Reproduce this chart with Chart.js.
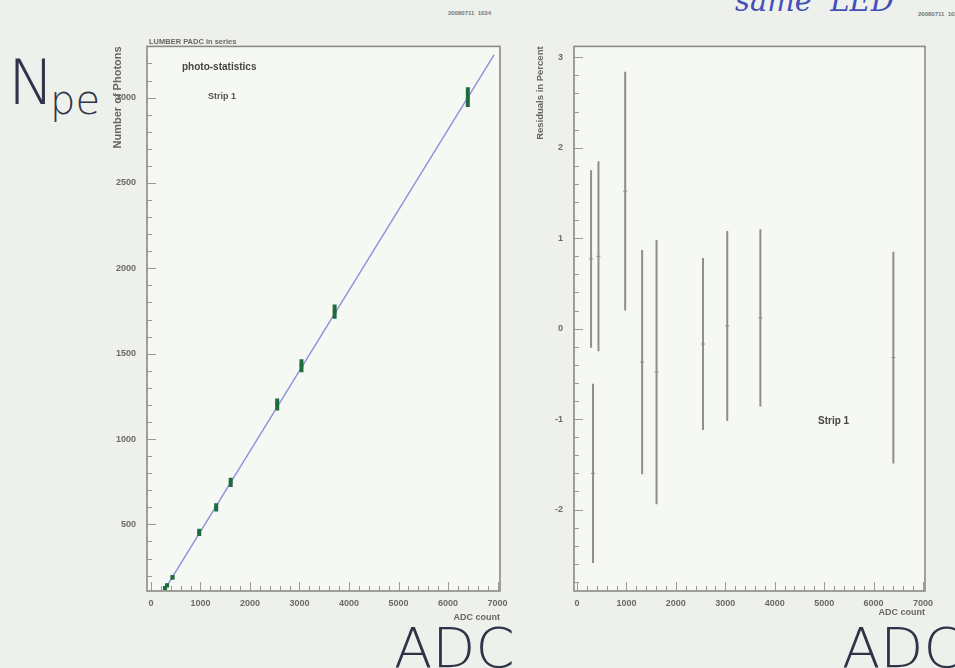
<!DOCTYPE html>
<html>
<head>
<meta charset="utf-8">
<script src="https://cdn.jsdelivr.net/npm/chart.js@4.4.0/dist/chart.umd.min.js"></script>
<style>
  body { margin: 0; width: 955px; height: 668px; background: #eef0ec; position: relative; overflow: hidden; font-family: "Liberation Sans", Arial, sans-serif; }
  .box { position: absolute; }
  .note { position: absolute; white-space: nowrap; line-height: 1; }
  .hand { font-family: "DejaVu Sans", sans-serif; font-weight: 200; color: #2e3548; }
  .stamp { font-size: 6px; color: #777; font-weight: bold; }
</style>
</head>
<body>
<div class="box" style="left:100px; top:30px; width:420px; height:600px;"><canvas id="left"></canvas></div>
<div class="box" style="left:520px; top:30px; width:435px; height:600px;"><canvas id="right"></canvas></div>

<div class="note hand" style="left:8px; top:52px; font-size:62px;">N</div>
<div class="note hand" style="left:50px; top:80px; font-size:40px;">pe</div>
<div class="note hand" style="left:394px; top:620px; font-size:56px;">ADC</div>
<div class="note hand" style="left:842px; top:620px; font-size:56px;">ADC</div>
<div class="note" style="left:735px; top:-13px; font-size:29px; font-style:italic; font-family:'DejaVu Serif',serif; color:#4450b8;">same &nbsp;LED</div>
<div class="note stamp" style="left:448px; top:10px;">20080711 &nbsp;1034</div>
<div class="note stamp" style="left:918px; top:11px;">20080711 &nbsp;1035</div>
<div class="note stamp" style="left:149px; top:38px; font-size:7.5px; color:#666;">LUMBER PADC in series</div>
<div class="note" style="left:182px; top:62px; font-size:10px; font-weight:bold; color:#444;">photo-statistics</div>
<div class="note" style="left:208px; top:92px; font-size:9px; font-weight:bold; color:#555;">Strip 1</div>
<div class="note" style="left:818px; top:416px; font-size:10px; font-weight:bold; color:#444;">Strip 1</div>

<script>
// ADC values of the measurements (same points in both pads)
const adc = [285, 325, 435, 975, 1318, 1610, 2550, 3040, 3710, 6400];
// left pad: number of photoelectrons
const npe = [127, 143, 190, 453, 600, 746, 1202, 1430, 1746, 3003];
const npeErr = [12, 13, 14, 21, 24, 27, 35, 38, 42, 58];
const fitAdc = [280, 6930];
const fitNpe = [120, 3250];
// right pad: residuals in percent
const residual = [0.77, -1.6, 0.8, 1.52, -0.37, -0.48, -0.17, 0.03, 0.12, -0.32];
const residualErr = [0.98, 0.99, 1.05, 1.32, 1.24, 1.46, 0.95, 1.05, 0.98, 1.17];
// tick labels
const xTicks = [0, 1000, 2000, 3000, 4000, 5000, 6000, 7000];
const npeTicks = [500, 1000, 1500, 2000, 2500, 3000];
const residualTicks = [-2, -1, 0, 1, 2, 3];

const labelFont = { family: "Liberation Sans", size: 9, weight: "bold" };

const plotBg = {
  id: "plotBg",
  beforeDraw(chart) {
    const { ctx, chartArea: a } = chart;
    ctx.save();
    ctx.fillStyle = "#f6f8f4";
    ctx.fillRect(a.left, a.top, a.right - a.left, a.bottom - a.top);
    ctx.restore();
  },
};

const errorBars = {
  id: "errorBars",
  afterDatasetsDraw(chart, args, o) {
    if (!o.errors) return;
    const { ctx, chartArea: a } = chart;
    const xs = chart.scales.x;
    const ys = chart.scales.y;
    const pts = chart.data.datasets[0].data;
    ctx.save();
    ctx.beginPath();
    ctx.rect(a.left, a.top, a.right - a.left, a.bottom - a.top);
    ctx.clip();
    ctx.strokeStyle = o.color;
    ctx.lineWidth = o.width;
    pts.forEach((p, i) => {
      const px = xs.getPixelForValue(p.x);
      ctx.beginPath();
      ctx.moveTo(px, ys.getPixelForValue(p.y - o.errors[i]));
      ctx.lineTo(px, ys.getPixelForValue(p.y + o.errors[i]));
      ctx.stroke();
    });
    ctx.restore();
  },
};

// ROOT style frame with ticks drawn inside
const frameTicks = {
  id: "frameTicks",
  afterDraw(chart, args, o) {
    const { ctx, chartArea: a } = chart;
    const xs = chart.scales.x;
    const ys = chart.scales.y;
    ctx.save();
    ctx.strokeStyle = "#9a9a98";
    ctx.lineWidth = 1;
    for (let k = Math.ceil(xs.min / o.xMinor); k * o.xMinor <= xs.max; k++) {
      const v = k * o.xMinor;
      const px = Math.round(xs.getPixelForValue(v)) + 0.5;
      const len = k % o.xSub === 0 ? 9 : 5;
      ctx.beginPath();
      ctx.moveTo(px, a.bottom);
      ctx.lineTo(px, a.bottom - len);
      ctx.stroke();
    }
    for (let k = Math.ceil(ys.min / o.yMinor); k * o.yMinor <= ys.max; k++) {
      const v = k * o.yMinor;
      const py = Math.round(ys.getPixelForValue(v)) + 0.5;
      const len = k % o.ySub === 0 ? 9 : 5;
      ctx.beginPath();
      ctx.moveTo(a.left, py);
      ctx.lineTo(a.left + len, py);
      ctx.stroke();
    }
    ctx.strokeStyle = "#8a8a86";
    ctx.lineWidth = 1.6;
    ctx.strokeRect(a.left, a.top, a.right - a.left, a.bottom - a.top);
    ctx.restore();
  },
};

function axisX(min, max, titlePad) {
  return {
    type: "linear",
    min: min,
    max: max,
    afterBuildTicks: (s) => { s.ticks = xTicks.map((v) => ({ value: v })); },
    afterFit: (s) => { s.height = 39; },
    grid: { display: false, drawTicks: false },
    border: { display: false },
    ticks: { padding: 7, font: labelFont, color: "#6a6a6a", maxRotation: 0, autoSkip: false, callback: (v) => String(v) },
    title: { display: true, text: "ADC count", align: "end", font: labelFont, color: "#666", padding: { top: 0, bottom: titlePad } },
  };
}

function axisY(min, max, ticks, width, tickPad, title, titleSize, titlePad) {
  return {
    type: "linear",
    min: min,
    max: max,
    afterBuildTicks: (s) => { s.ticks = ticks.map((v) => ({ value: v })); },
    afterFit: (s) => { s.width = width; },
    grid: { display: false, drawTicks: false },
    border: { display: false },
    ticks: { padding: tickPad, font: labelFont, color: "#6a6a6a", autoSkip: false, callback: (v) => String(v) },
    title: { display: true, text: title, align: "end", font: { family: "Liberation Sans", size: titleSize, weight: "bold" }, color: "#666", padding: { top: titlePad, bottom: 0 } },
  };
}

new Chart(document.getElementById("left"), {
  type: "scatter",
  data: {
    datasets: [
      {
        data: adc.map((x, i) => ({ x: x, y: npe[i] })),
        pointStyle: "rect",
        pointRadius: 2.4,
        backgroundColor: "#1d6b3e",
        borderColor: "#1d6b3e",
        borderWidth: 0,
      },
      {
        type: "line",
        data: fitAdc.map((x, i) => ({ x: x, y: fitNpe[i] })),
        borderColor: "#8c90dc",
        borderWidth: 1.4,
        pointRadius: 0,
        fill: false,
      },
    ],
  },
  options: {
    responsive: true,
    maintainAspectRatio: false,
    animation: false,
    layout: { padding: { top: 15, right: 20, left: 0, bottom: 0 } },
    plugins: {
      legend: { display: false },
      tooltip: { enabled: false },
      errorBars: { errors: npeErr, color: "#1d6b3e", width: 4 },
      frameTicks: { xMinor: 200, xSub: 5, yMinor: 100, ySub: 5 },
    },
    scales: {
      x: axisX(-80, 7050, 7),
      y: axisY(110, 3300, npeTicks, 47, 11, "Number of Photons", 11, 11),
    },
  },
  plugins: [plotBg, errorBars, frameTicks],
});

new Chart(document.getElementById("right"), {
  type: "scatter",
  data: {
    datasets: [
      {
        data: adc.map((x, i) => ({ x: x, y: residual[i] })),
        pointStyle: "line",
        pointRadius: 2,
        borderColor: "#8c8c8c",
        borderWidth: 1,
      },
    ],
  },
  options: {
    responsive: true,
    maintainAspectRatio: false,
    animation: false,
    layout: { padding: { top: 15, right: 30, left: 0, bottom: 0 } },
    plugins: {
      legend: { display: false },
      tooltip: { enabled: false },
      errorBars: { errors: residualErr, color: "#8e8e8e", width: 2 },
      frameTicks: { xMinor: 200, xSub: 5, yMinor: 0.2, ySub: 5 },
    },
    scales: {
      x: axisX(-60, 7040, 12),
      y: axisY(-2.9, 3.12, residualTicks, 54, 11, "Residuals in Percent", 9.5, 15),
    },
  },
  plugins: [plotBg, errorBars, frameTicks],
});
</script>
</body>
</html>
